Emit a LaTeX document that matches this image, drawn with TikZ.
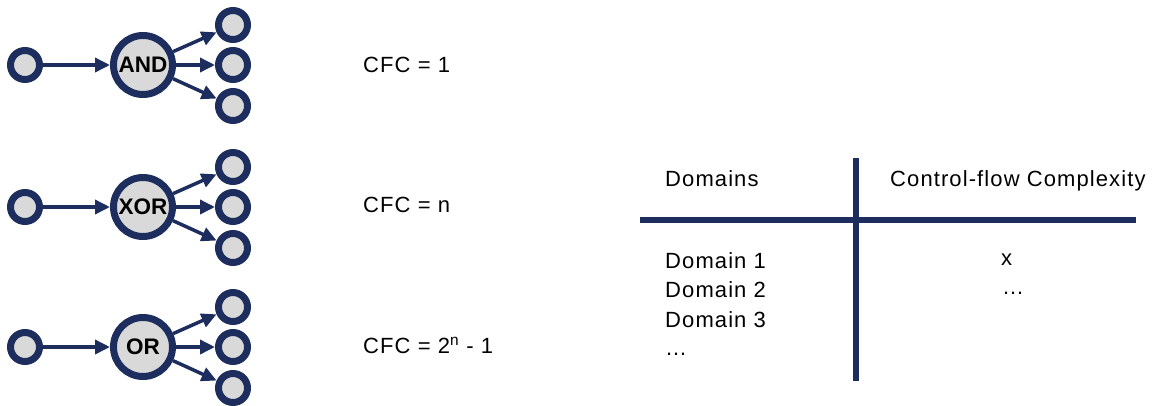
\documentclass[tikz,border=0pt]{standalone}
\usepackage{fontspec}
\setmainfont{Liberation Sans}
\usepackage{tikz}
\usetikzlibrary{arrows.meta}

\definecolor{navy}{RGB}{29,45,93}
\definecolor{nodegray}{RGB}{217,217,217}

\tikzset{
    gate/.style={circle, draw=navy, fill=nodegray, line width=7pt, minimum size=59pt, inner sep=0pt, font=\fontsize{22.5}{24}\selectfont\bfseries},
    port/.style={circle, draw=navy, fill=nodegray, line width=7pt, minimum size=29pt, inner sep=0pt},
    flow/.style={-{Triangle[length=15pt, width=14pt]}, line width=3.5pt, navy},
    txt/.style={anchor=base west, inner sep=0pt, font=\fontsize{22}{24}\selectfont\addfontfeature{LetterSpace=5}},
    rule/.style={line width=6pt, navy}
}

\begin{document}
\begin{tikzpicture}[x=1pt, y=-1pt]
    \useasboundingbox (0,0) rectangle (1162,405);

    % Gates with one input and three outputs
    \foreach \y/\lbl/\nm in {65/AND/and, 207/XOR/xor, 347/OR/or} {
        \node[port] (\nm-in) at (25,\y) {};
        \node[gate] (\nm) at (143,\y) {\lbl};
        \node[port] (\nm-a) at (233,\y-40) {};
        \node[port] (\nm-b) at (233,\y) {};
        \node[port] (\nm-c) at (233,\y+41) {};
        \draw[flow] (\nm-in) -- (\nm);
        \draw[flow] (\nm) -- (\nm-a);
        \draw[flow] (\nm) -- (\nm-b);
        \draw[flow] (\nm) -- (\nm-c);
    }

    % Complexity of each gate
    \node[txt] (cfc-and) at (363,72) {CFC = 1};
    \node[txt] (cfc-xor) at (363,212) {CFC = n};
    \node[txt] (cfc-or) at (363,353) {CFC = 2\textsuperscript{n} - 1};

    % Table
    \coordinate (vtop) at (856,158);
    \coordinate (vbot) at (856,381);
    \coordinate (hleft) at (640,220);
    \coordinate (hright) at (1136,220);
    \draw[rule] (vtop) -- (vbot);
    \draw[rule] (hleft) -- (hright);

    \node[txt] (head-dom) at (665,186) {Domains};
    \node[txt] (head-cfc) at (890,186) {Control-flow Complexity};
    \node[txt] (dom-1) at (665,268) {Domain 1};
    \node[txt] (dom-2) at (665,297) {Domain 2};
    \node[txt] (dom-3) at (665,327) {Domain 3};
    \node[txt] (dom-etc) at (665,355) {…};
    \node[txt] (cfc-1) at (1001,265) {x};
    \node[txt] (cfc-etc) at (1002,294) {…};
\end{tikzpicture}
\end{document}
